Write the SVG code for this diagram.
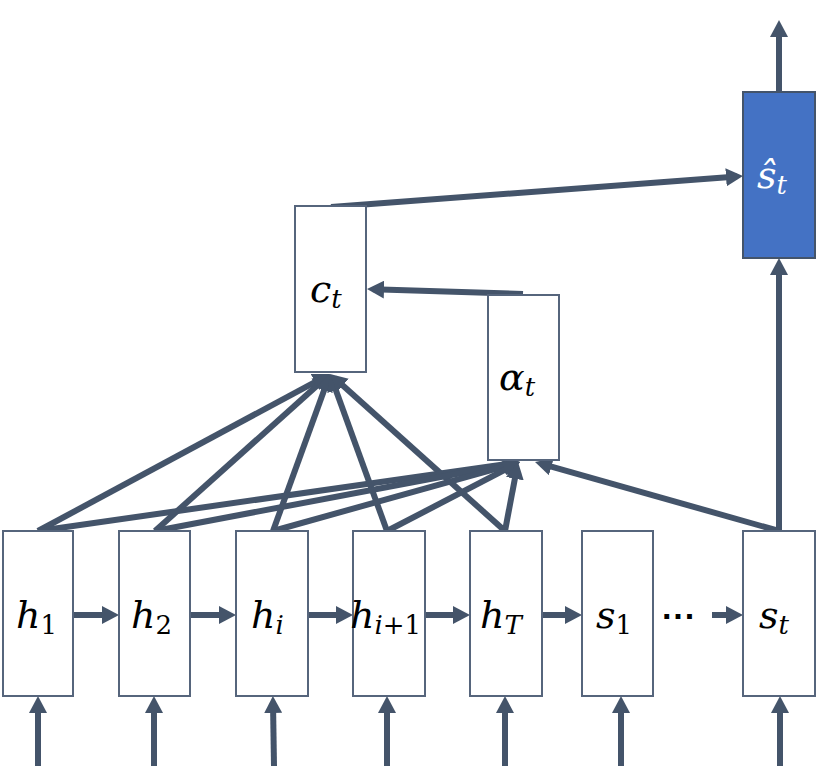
<svg xmlns="http://www.w3.org/2000/svg" width="829" height="766" viewBox="0 0 829 766">
<defs>
<marker id="ah" markerWidth="18" markerHeight="18" refX="11" refY="9" orient="auto" markerUnits="userSpaceOnUse"><path d="M0,0 L17,9 L0,18 z" fill="#44546A"/></marker>
<style>
.box{fill:#fff;stroke:#56657C;stroke-width:2}
.hat{fill:#4472C4;stroke:#44546A;stroke-width:2}
.ln{stroke:#44546A;stroke-width:6;fill:none}
.ar{stroke:#44546A;stroke-width:6;fill:none;marker-end:url(#ah)}
.m{font-family:"DejaVu Serif",serif;font-style:italic;font-size:38px;fill:#000}
.sub{font-size:26px}
.up{font-style:normal}
.dots{font-family:"Liberation Sans",sans-serif;font-weight:bold;font-size:34px;fill:#000}
</style>
</defs>
<rect width="829" height="766" fill="#fff"/>
<g id="connectors">
<line class="ar" x1="38" y1="766" x2="38" y2="702"/>
<line class="ar" x1="154" y1="766" x2="154" y2="702"/>
<line class="ar" x1="274" y1="766" x2="273" y2="702"/>
<line class="ar" x1="387" y1="766" x2="387" y2="702"/>
<line class="ar" x1="505" y1="766" x2="505" y2="702"/>
<line class="ar" x1="621" y1="766" x2="621" y2="702"/>
<line class="ar" x1="780" y1="766" x2="780" y2="702"/>
<line class="ar" x1="73" y1="615" x2="113" y2="615"/>
<line class="ar" x1="190" y1="615" x2="230" y2="615"/>
<line class="ar" x1="308" y1="615" x2="347" y2="615"/>
<line class="ar" x1="425" y1="615" x2="464" y2="615"/>
<line class="ar" x1="542" y1="615" x2="576" y2="615"/>
<line class="ar" x1="712" y1="615" x2="737" y2="615"/>
<line class="ar" x1="779" y1="531" x2="779" y2="264"/>
<line class="ar" x1="779" y1="92" x2="779" y2="26"/>
<line class="ar" x1="331" y1="207" x2="737" y2="176.5"/>
<line class="ar" x1="523" y1="294" x2="373" y2="289.2"/>
<line class="ar" x1="38" y1="531" x2="324.7" y2="376.8"/>
<line class="ar" x1="155" y1="531" x2="325.5" y2="378"/>
<line class="ar" x1="273" y1="531" x2="328" y2="379.6"/>
<line class="ar" x1="387" y1="531" x2="332" y2="379.6"/>
<line class="ar" x1="505" y1="531" x2="334.5" y2="378"/>
<line class="ar" x1="38" y1="531" x2="514" y2="462.9"/>
<line class="ar" x1="155" y1="531" x2="514.1" y2="463.1"/>
<line class="ar" x1="273" y1="531" x2="514.2" y2="463.6"/>
<line class="ar" x1="387" y1="531" x2="514.7" y2="464.8"/>
<line class="ar" x1="505" y1="531" x2="516.9" y2="467.9"/>
<line class="ar" x1="779" y1="531" x2="540.8" y2="463.6"/>
</g>
<g id="h1"><rect class="box" x="3" y="531" width="70" height="165"/><text class="m" x="16" y="628">h<tspan class="sub up" dy="6">1</tspan></text></g>
<g id="h2"><rect class="box" x="119" y="531" width="71" height="165"/><text class="m" x="131" y="628">h<tspan class="sub up" dy="6">2</tspan></text></g>
<g id="hi"><rect class="box" x="236" y="531" width="72" height="165"/><text class="m" x="251" y="628">h<tspan class="sub" dy="6">i</tspan></text></g>
<g id="hi1"><rect class="box" x="353" y="531" width="72" height="165"/><text class="m" x="350" y="628">h<tspan class="sub" dy="6">i</tspan><tspan class="sub up">+1</tspan></text></g>
<g id="hT"><rect class="box" x="470" y="531" width="72" height="165"/><text class="m" x="480" y="628">h<tspan class="sub" dy="6">T</tspan></text></g>
<g id="s1"><rect class="box" x="582" y="531" width="71" height="165"/><text class="m" x="596" y="628">s<tspan class="sub up" dy="6">1</tspan></text></g>
<g id="dots"><text class="dots" x="662" y="628">···</text></g>
<g id="st"><rect class="box" x="743" y="531" width="72" height="165"/><text class="m" x="759" y="628">s<tspan class="sub" dy="6">t</tspan></text></g>
<g id="ct"><rect class="box" x="295" y="206" width="71" height="166"/><text class="m" x="310" y="302">c<tspan class="sub" dy="6">t</tspan></text></g>
<g id="alpha"><rect class="box" x="488" y="295" width="71" height="165"/><text class="m" x="499" y="390">α<tspan class="sub" dy="6">t</tspan></text></g>
<g id="shat"><rect class="hat" x="743" y="92" width="72" height="166"/><text class="m" x="757" y="188" style="fill:#fff">ŝ<tspan class="sub" dy="6">t</tspan></text></g>
</svg>
